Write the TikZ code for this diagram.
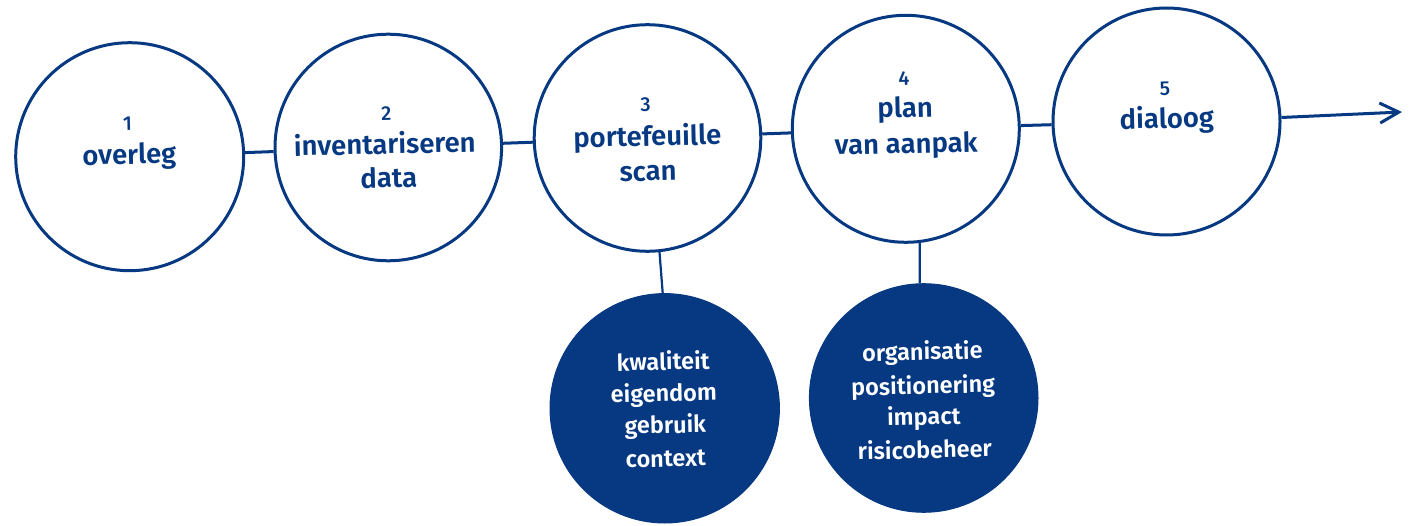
\documentclass[tikz,border=0pt]{standalone}
\usepackage{fontspec}
\setmainfont{Fira Sans}[BoldFont={Fira Sans SemiBold}]
\newfontfamily\numfont{Fira Sans Medium}
\usetikzlibrary{arrows.meta}
\definecolor{navy}{RGB}{6,57,130}
\begin{document}
\begin{tikzpicture}[x=1pt,y=-1pt,
  stepcircle/.style={circle,draw=navy,line width=3pt,inner sep=0pt,fill=white},
  subcircle/.style={circle,fill=navy,draw=navy,line width=1pt,inner sep=0pt},
  numtext/.style={anchor=base,inner sep=0pt,text=navy,rotate=1.3,font=\numfont\fontsize{20}{24}\selectfont},
  wordtext/.style={anchor=base,inner sep=0pt,text=navy,rotate=1.3,font=\bfseries\fontsize{27.5}{33}\selectfont},
  subtext/.style={anchor=base,inner sep=0pt,text=white,rotate=1.3,font=\bfseries\fontsize{23.5}{28}\selectfont},
  link/.style={draw=navy,line width=3pt},
  vlink/.style={draw=navy,line width=2.2pt}]
\useasboundingbox[fill=white] (0,0) rectangle (1412,526);
% main circles
\node[stepcircle,minimum size=228pt] (c1) at (129.7,156.7) {};
\node[stepcircle,minimum size=226.6pt] (c2) at (388.3,147.5) {};
\node[stepcircle,minimum size=226.6pt] (c3) at (647.5,138) {};
\node[stepcircle,minimum size=227pt] (c4) at (905.8,128.8) {};
\node[stepcircle,minimum size=227pt] (c5) at (1166.5,121.5) {};
% sub circles
\node[subcircle,minimum size=229.4pt] (sa) at (664.7,408.3) {};
\node[subcircle,minimum size=228.6pt] (sb) at (923.7,398) {};
% connectors
\draw[link] (c1) -- (c2);
\draw[link] (c2) -- (c3);
\draw[link] (c3) -- (c4);
\draw[link] (c4) -- (c5);
\draw[vlink] (c3.-84) -- (sa.91.8);
\draw[vlink] (c4.-83.7) -- (sb.92.4);
\coordinate (tip) at (1402,112);
\draw[link,-{Straight Barb[length=19pt,width=20pt,line width=3pt]}] (c5.2.3) -- (tip);
% texts circle 1
\node[numtext] (n1) at (127.7,130) {1};
\node[wordtext] (w1) at (129.5,164) {overleg};
% circle 2
\node[numtext] (n2) at (386.5,120.7) {2};
\node[wordtext] (w2a) at (385,154) {inventariseren};
\node[wordtext] (w2b) at (389,187.5) {data};
% circle 3
\node[numtext] (n3) at (645.7,111.7) {3};
\node[wordtext] (w3a) at (647.5,146) {portefeuille};
\node[wordtext] (w3b) at (648.3,180.7) {scan};
% circle 4
\node[numtext] (n4) at (904,85) {4};
\node[wordtext] (w4a) at (905.3,117.3) {plan};
\node[wordtext] (w4b) at (906.3,153.3) {van aanpak};
% circle 5
\node[numtext] (n5) at (1165,95.7) {5};
\node[wordtext] (w5) at (1167,128.3) {dialoog};
% sub circle A
\node[subtext] (a1) at (663.3,370) {kwaliteit};
\node[subtext] (a2) at (664,401.7) {eigendom};
\node[subtext] (a3) at (665.5,433.3) {gebruik};
\node[subtext] (a4) at (666,466.7) {context};
% sub circle B
\node[subtext] (b1) at (922.5,360) {organisatie};
\node[subtext] (b2) at (923.3,394) {positionering};
\node[subtext] (b3) at (924,425) {impact};
\node[subtext] (b4) at (925,458.3) {risicobeheer};
\end{tikzpicture}
\end{document}
